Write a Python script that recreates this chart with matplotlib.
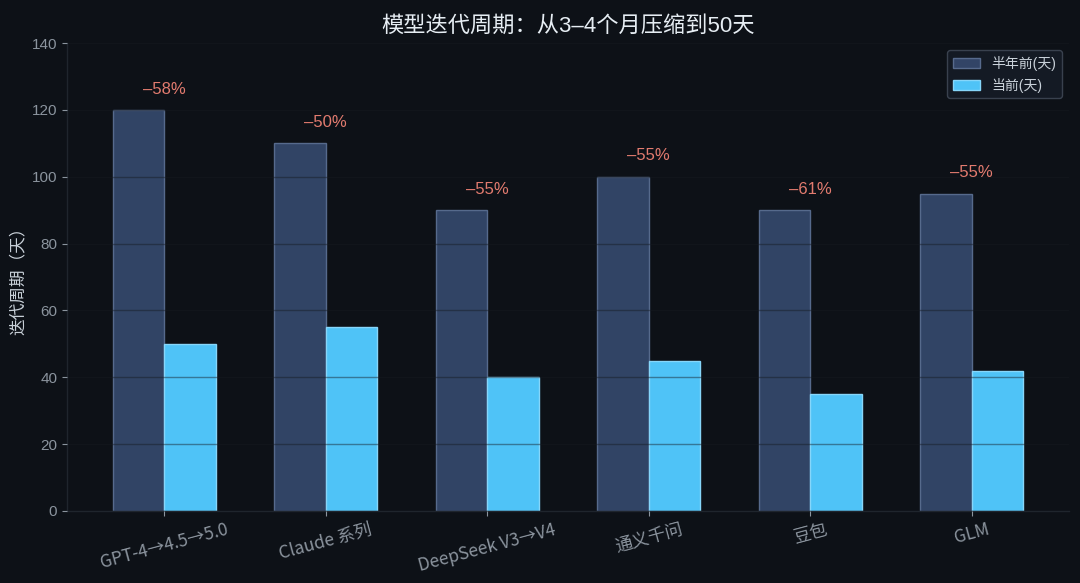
import matplotlib
matplotlib.use("Agg")
import matplotlib.pyplot as plt
import numpy as np

plt.rcParams['font.family'] = ['Liberation Sans', 'Noto Sans CJK SC', 'DejaVu Sans']
plt.rcParams['axes.unicode_minus'] = False

models = ["GPT-4→4.5→5.0", "Claude 系列", "DeepSeek V3→V4", "通义千问", "豆包", "GLM"]
before = [120, 110, 90, 100, 90, 95]
now = [50, 55, 40, 45, 35, 42]
changes = ["–58%", "–50%", "–55%", "–55%", "–61%", "–55%"]
series_names = ["半年前(天)", "当前(天)"]

bg = "#0d1117"
fig = plt.figure(figsize=(10.8, 5.83), dpi=100, facecolor=bg)
ax = fig.add_axes([0.062, 0.1235, 0.9278, 0.8025], facecolor=bg)

x = np.arange(len(models))
w = 0.32
ax.bar(x - w / 2, before, w, color="#34476a", edgecolor="#5a6e91", linewidth=1.0,
       alpha=0.95, label=series_names[0], zorder=2)
ax.bar(x + w / 2, now, w, color="#4fc3f7", edgecolor="#86d6fa", linewidth=1.0,
       alpha=1.0, label=series_names[1], zorder=2)

for xi, b, c in zip(x, before, changes):
    ax.text(xi, b + 4, c, ha="center", va="bottom", color="#e27b6f", fontsize=12, zorder=4)

ax.set_ylim(0, 140)
ax.set_yticks(np.arange(0, 141, 20))
ax.set_axisbelow(False)
ax.yaxis.grid(True, color="#161b22", alpha=0.45, linewidth=1.0, zorder=3)
ax.xaxis.grid(False)
ax.set_xticks(x)
ax.set_xticklabels(models, rotation=15, color="#8b949e", fontsize=12.5,
                   family=['Noto Sans CJK SC', 'DejaVu Sans'])
ax.tick_params(axis="y", colors="#8b949e", labelsize=11)
ax.tick_params(axis="x", colors="#8b949e")

for s in ["top", "right"]:
    ax.spines[s].set_visible(False)
for s in ["left", "bottom"]:
    ax.spines[s].set_color("#1f252d")
    ax.spines[s].set_linewidth(1.0)

ax.set_ylabel("迭代周期（天）", color="#c9d1d9", fontsize=12)
ax.set_title("模型迭代周期：从3–4个月压缩到50天", color="#e6edf3", fontsize=16, pad=8)

leg = ax.legend(loc="upper right", facecolor="#141a24", edgecolor="#39414e",
                fontsize=10, labelcolor="#c9d1d9", framealpha=1.0)

fig.savefig("out.png", dpi=100, facecolor=bg)
